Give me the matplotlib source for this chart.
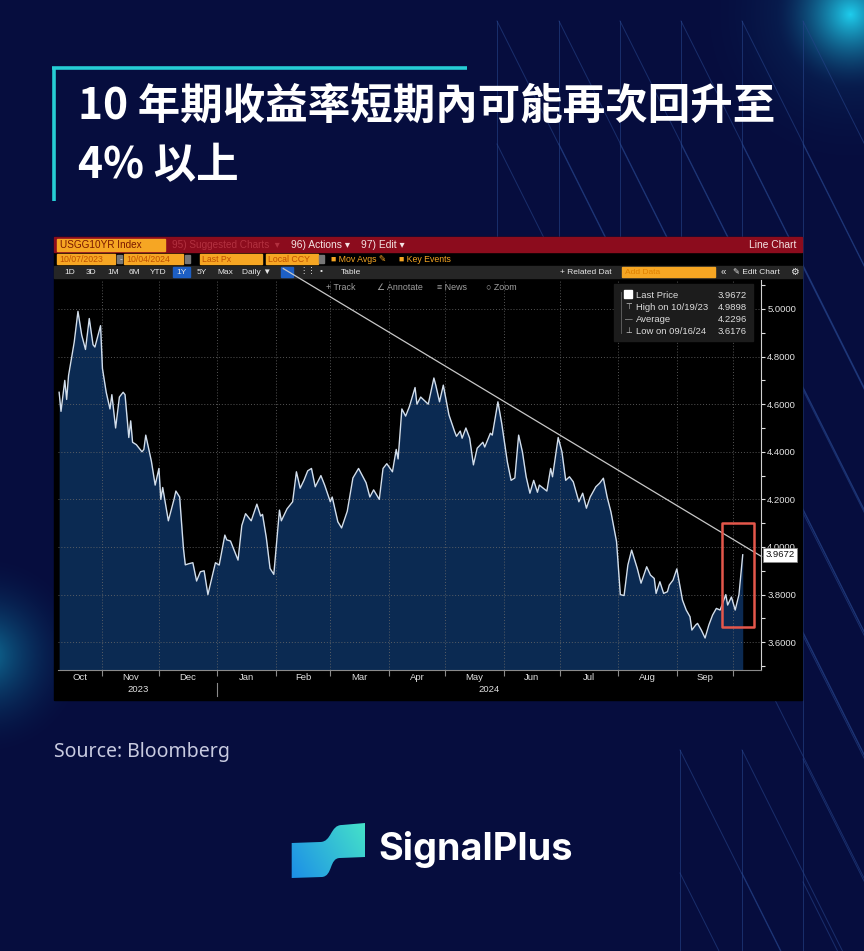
import datetime as dt
import numpy as np
import matplotlib
matplotlib.use("Agg")
import matplotlib.pyplot as plt
import matplotlib.dates as mdates
import matplotlib.transforms as mtransforms
from matplotlib import font_manager
from matplotlib.patches import Rectangle, PathPatch
from matplotlib.path import Path
from matplotlib.ticker import MultipleLocator, FormatStrFormatter, NullFormatter

# --- data: US 10Y yield, days after 2023-10-07 ---
start_date = dt.datetime(2023, 10, 7)
days = [2, 3, 5, 6, 7, 10, 12, 14, 16, 18,
        20, 21, 24, 25, 27, 29, 30, 32, 34, 36,
        37, 39, 40, 41, 43, 46, 47, 48, 51, 53,
        55, 56, 57, 60, 63, 64, 66, 68, 69, 71,
        73, 75, 77, 79, 81, 83, 85, 87, 90, 91,
        93, 97, 99, 101, 104, 107, 109, 110, 112, 114,
        116, 119, 120, 123, 126, 128, 130, 132, 134, 136,
        138, 141, 143, 146, 147, 150, 152, 155, 158, 161,
        165, 167, 169, 172, 174, 176, 179, 181, 182, 184,
        186, 188, 191, 192, 194, 198, 201, 202, 204, 206,
        209, 212, 213, 215, 216, 218, 220, 222, 224, 227,
        228, 231, 232, 235, 237, 240, 242, 244, 246, 248,
        250, 252, 254, 256, 257, 261, 263, 264, 267, 269,
        271, 273, 275, 278, 280, 282, 284, 287, 289, 291,
        293, 295, 298, 300, 302, 304, 306, 309, 311, 314,
        316, 318, 319, 321, 323, 325, 326, 328, 330, 333,
        335, 337, 338, 340, 341, 343, 345, 347, 349, 351,
        353, 354, 356, 357, 359, 361, 363, 365]
yields = [4.65, 4.57, 4.70, 4.62, 4.72, 4.86, 4.99, 4.89, 4.83, 4.96,
          4.85, 4.84, 4.93, 4.75, 4.65, 4.58, 4.64, 4.50, 4.63, 4.65,
          4.64, 4.46, 4.53, 4.44, 4.43, 4.40, 4.41, 4.47, 4.36, 4.26,
          4.33, 4.20, 4.25, 4.11, 4.20, 4.235, 4.21, 3.995, 3.925, 3.93,
          3.934, 3.857, 3.896, 3.90, 3.80, 3.868, 3.934, 3.924, 4.05, 4.03,
          4.025, 3.945, 4.09, 4.14, 4.11, 4.18, 4.13, 4.137, 4.04, 3.91,
          3.885, 4.155, 4.11, 4.16, 4.19, 4.316, 4.247, 4.28, 4.32, 4.33,
          4.253, 4.30, 4.26, 4.19, 4.21, 4.106, 4.08, 4.15, 4.29, 4.33,
          4.27, 4.21, 4.24, 4.20, 4.33, 4.35, 4.316, 4.41, 4.37, 4.58,
          4.55, 4.59, 4.67, 4.60, 4.63, 4.60, 4.71, 4.68, 4.61, 4.68,
          4.555, 4.485, 4.465, 4.487, 4.457, 4.50, 4.457, 4.345, 4.415, 4.44,
          4.42, 4.478, 4.47, 4.61, 4.52, 4.358, 4.28, 4.29, 4.47, 4.40,
          4.295, 4.226, 4.28, 4.23, 4.26, 4.235, 4.33, 4.295, 4.46, 4.40,
          4.28, 4.295, 4.274, 4.19, 4.226, 4.163, 4.21, 4.253, 4.268, 4.289,
          4.21, 4.148, 4.022, 3.80, 3.796, 3.924, 3.987, 3.91, 3.848, 3.917,
          3.882, 3.868, 3.805, 3.854, 3.805, 3.812, 3.84, 3.861, 3.908, 3.777,
          3.735, 3.707, 3.651, 3.672, 3.679, 3.651, 3.6176, 3.672, 3.714, 3.742,
          3.735, 3.756, 3.80, 3.756, 3.79, 3.735, 3.80, 3.9672]
assert len(days) == len(yields)

trend_days = [121, 375]
trend_vals = [5.17, 3.96]
box_days = [354, 371]
box_vals = [3.664, 4.101]

legend_rows = ["Last Price", "High on 10/19/23", "Average", "Low on 09/16/24"]
legend_vals = ["3.9672", "4.9898", "4.2296", "3.6176"]
last_px = 3.9672

title1 = "10 年期收益率短期內可能再次回升至"
title2 = "4% 以上"
source = "Source: Bloomberg"

W, H = 864, 951
names = {f.name for f in font_manager.fontManager.ttflist}
narrow = "Liberation Sans Narrow" if "Liberation Sans Narrow" in names else "Liberation Sans"
BBG = [narrow, "DejaVu Sans"]
CJK = ["Noto Sans CJK TC", "DejaVu Sans"]

fig = plt.figure(figsize=(W / 100, H / 100), dpi=100)
bg = fig.add_axes([0, 0, 1, 1])
bg.axis("off")

# background + glows
yy, xx = np.mgrid[0:H, 0:W]
base = np.array([6, 13, 62]) / 255
img = np.ones((H, W, 3)) * base


def glow(cx, cy, r, col, k, p=2.0):
    d = np.hypot(xx - cx, yy - cy)
    a = np.clip(1 - d / r, 0, 1) ** p * k
    return a[..., None] * (np.array(col) / 255 - base)


img += glow(850, 14, 75, (30, 205, 230), 0.75, 1.6)
img += glow(850, 14, 170, (20, 120, 170), 0.45, 2.2)
img += glow(-15, 655, 105, (20, 170, 205), 0.65)
bg.imshow(np.clip(img, 0, 1), extent=(0, W, H, 0), aspect="auto", zorder=0)
bg.set_xlim(0, W)
bg.set_ylim(H, 0)

# decorative lines
deco = dict(color="#26448a", lw=0.7, alpha=0.6, zorder=1)
for x0 in [497, 559, 620, 681, 742]:
    bg.plot([x0, x0], [21, 240], **deco)
    for y0 in [21, 144]:
        bg.plot([x0, x0 + 0.5 * (H - y0)], [y0, H], **deco)
bg.plot([803, 803], [21, H], **deco)
for y0 in np.arange(21, H, 123):
    bg.plot([803, 803 + 0.5 * (H - y0)], [y0, H], **deco)
for x0 in [680, 742]:
    bg.plot([x0, x0], [750, H], **deco)
    for y0 in [750, 873]:
        bg.plot([x0, x0 + 0.5 * (H - y0)], [y0, H], **deco)

# title frame + title
bg.plot([52, 467], [68, 68], color="#26cdd5", lw=2.6, zorder=3, solid_capstyle="butt")
bg.plot([53.5, 53.5], [67, 201], color="#26cdd5", lw=2.6, zorder=3, solid_capstyle="butt")
t1 = bg.text(78, 106, title1, color="white", fontsize=28, fontweight="bold",
             va="center", family=CJK, zorder=4)
t2 = bg.text(78, 165, title2, color="white", fontsize=28, fontweight="bold",
             va="center", family=CJK, zorder=4)
r = fig.canvas.get_renderer()
w1 = t1.get_window_extent(r).width
scale = 697 / w1
t1.set_fontsize(28 * scale)
t2.set_fontsize(28 * scale)

# Bloomberg panel
bg.add_patch(Rectangle((54, 237), 748, 463, color="black", zorder=2))


def btxt(x, y, s, color="#e8e8e8", size=6.3, ha="left", target=None, **kw):
    tgt = target if target is not None else bg
    tgt.text(x, y, s, color=color, fontsize=size, ha=ha, va="center", family=BBG,
             transform=bg.transData, zorder=12, clip_on=False, **kw)


# row 1
bg.add_patch(Rectangle((54, 237), 748, 15, color="#8c0c1d", zorder=3))
bg.add_patch(Rectangle((57, 238.5), 108, 12, color="#f6a623", zorder=4))
btxt(60, 244.5, "USGG10YR Index", color="#7a1800", size=7.2)
btxt(172, 244.5, "95) Suggested Charts  \u25be", color="#b2303f", size=7.2)
btxt(291, 244.5, "96) Actions \u25be", color="#f4e4e4", size=7.4)
btxt(361, 244.5, "97) Edit \u25be", color="#f4e4e4", size=7.4)
btxt(796, 244.5, "Line Chart", color="#f4e4e4", size=7.4, ha="right")

# row 2
for x0, wd, s in [(57, 58, "10/07/2023"), (124, 59, "10/04/2024"),
                  (200, 62, "Last Px"), (266, 52, "Local CCY")]:
    bg.add_patch(Rectangle((x0, 254), wd, 10, color="#f6a623", zorder=4))
    btxt(x0 + 2, 259.3, s, color="#c05000", size=6.3)
for x0 in [117, 185, 319]:
    bg.add_patch(Rectangle((x0, 255), 5, 8, color="#777777", zorder=4))
btxt(119.5, 259.3, "-", color="#dddddd")
btxt(331, 259.3, "\u25a0 Mov Avgs \u270e", color="#f6a623", size=6.3)
btxt(399, 259.3, "\u25a0 Key Events", color="#f6a623", size=6.3)

# row 3
bg.add_patch(Rectangle((54, 266), 748, 12, color="#262626", zorder=3))
bg.add_patch(Rectangle((173, 267), 17, 10, color="#1d5fc4", zorder=4))
bg.add_patch(Rectangle((281, 267), 12, 10, color="#1d5fc4", zorder=4))
for x0, s in [(64, "1D"), (86, "3D"), (107, "1M"), (129, "6M"), (150, "YTD"),
              (176, "1Y"), (197, "5Y"), (217, "Max"), (242, "Daily \u25bc"),
              (299, "\u22ee\u22ee"), (320, "\u2022"), (341, "Table")]:
    btxt(x0, 272, s, size=6.0)
btxt(560, 272, "+ Related Dat", size=6.0)
bg.add_patch(Rectangle((622, 267), 93, 10, color="#f6a623", zorder=4))
btxt(625, 272, "Add Data", color="#e08000", size=6.0)
btxt(721, 272, "\u00ab", size=7)
btxt(733, 272, "\u270e Edit Chart", size=6.0)
btxt(790, 272, "\u2699", size=7)

# plot axes
x0_px, x1_px, top_px, bot_px = 58, 761, 280, 670
ax = fig.add_axes([x0_px / W, 1 - bot_px / H, (x1_px - x0_px) / W, (bot_px - top_px) / H],
                  zorder=5)
ax.set_facecolor("none")
base_num = mdates.date2num(start_date)
xd = base_num + np.array(days)
ax.fill_between(xd, yields, 3.0, color="#0b2a52", lw=0, zorder=1)
ax.plot(xd, yields, color="#d2deec", lw=1.0, zorder=3)
ax.plot(base_num + np.array(trend_days), trend_vals, color="#c8c8c8", lw=0.9,
        zorder=4, clip_on=False)
xlim = (base_num + 1.4, base_num + 374.7)
ax.set_xlim(*xlim)
ax.set_ylim(3.4832, 5.1218)

ax.xaxis.set_major_locator(mdates.MonthLocator())
ax.xaxis.set_major_formatter(NullFormatter())
ax.yaxis.tick_right()
ax.yaxis.set_major_locator(MultipleLocator(0.2))
ax.yaxis.set_minor_locator(MultipleLocator(0.1))
ax.yaxis.set_major_formatter(FormatStrFormatter("%.4f"))
ax.grid(True, which="major", color="#6a6a6a", ls=(0, (1, 2)), lw=0.7, alpha=0.8, zorder=2)
ax.tick_params(axis="y", which="both", direction="out", length=3, width=0.8,
               color="#e0e0e0", labelcolor="#e4e4e4", labelsize=6.8, pad=1.5)
ax.tick_params(axis="x", which="both", direction="out", length=4, width=0.8,
               color="#8a8a8a")
for lab in ax.get_yticklabels():
    lab.set_family(BBG)
for sp in ["left", "top"]:
    ax.spines[sp].set_visible(False)
ax.spines["right"].set_color("#d0d0d0")
ax.spines["right"].set_linewidth(0.8)
ax.spines["bottom"].set_color("#8a8a8a")
ax.spines["bottom"].set_linewidth(0.8)

# month + year labels
mix = mtransforms.blended_transform_factory(ax.transData, bg.transData)
months = [dt.datetime(2023, 10, 1)]
while months[-1] < dt.datetime(2024, 10, 1):
    m = months[-1]
    months.append(dt.datetime(m.year + (m.month == 12), m.month % 12 + 1, 1))
for a, b in zip(months[:-1], months[1:]):
    lo = max(mdates.date2num(a), xlim[0])
    hi = min(mdates.date2num(b), xlim[1])
    ax.text((lo + hi) / 2, 678, a.strftime("%b"), transform=mix, ha="center", va="center",
            color="#e0e0e0", fontsize=6.8, family=BBG, clip_on=False)
jan = mdates.date2num(dt.datetime(2024, 1, 1))
ax.text((xlim[0] + jan) / 2, 689, "2023", transform=mix, ha="center", va="center",
        color="#e0e0e0", fontsize=6.8, family=BBG, clip_on=False)
ax.text((jan + xlim[1]) / 2, 689, "2024", transform=mix, ha="center", va="center",
        color="#e0e0e0", fontsize=6.8, family=BBG, clip_on=False)
ax.plot([jan, jan], [683, 696], transform=mix, color="#8a8a8a", lw=0.8, clip_on=False)

# toolbar row over the plot
for x0, s in [(326, "+ Track"), (377, "\u2220 Annotate"), (437, "\u2261 News"), (486, "\u25cb Zoom")]:
    btxt(x0, 287, s, color="#a0a0a0", size=6.4, target=ax)

# legend box
ax.add_patch(Rectangle((614, 284), 139, 57, color="#1c1c1c", transform=bg.transData,
                       zorder=10, clip_on=False))
ax.plot([621, 621], [292, 333], transform=bg.transData, color="#666666", lw=0.6,
        zorder=11, clip_on=False)
ax.add_patch(Rectangle((624, 290), 8, 8, color="white", transform=bg.transData,
                       zorder=11, clip_on=False))
icons = ["", "\u22a4", "\u2014", "\u22a5"]
for i, (lab, val) in enumerate(zip(legend_rows, legend_vals)):
    yv = 295 + 12.3 * i
    if icons[i]:
        btxt(625, yv, icons[i], color="#cfcfcf", size=5.5, target=ax)
    btxt(636, yv, lab, color="#dcdcdc", size=6.8, target=ax)
    btxt(747, yv, val, color="#dcdcdc", size=6.8, ha="right", target=ax)

# red highlight box
ax.add_patch(Rectangle((base_num + box_days[0], box_vals[0]), box_days[1] - box_days[0],
                       box_vals[1] - box_vals[0], fill=False, ec="#e4574b", lw=1.8,
                       joinstyle="round", zorder=9, clip_on=False))

# last price tag
ax.text(1.006, last_px, f"{last_px:.4f}",
        transform=mtransforms.blended_transform_factory(ax.transAxes, ax.transData),
        ha="left", va="center", fontsize=6.8, color="#111111", family=BBG, zorder=12,
        clip_on=False, bbox=dict(boxstyle="square,pad=0.25", fc="white", ec="#888888", lw=0.5))

# source
bg.text(54, 752, source, color="#c8cbe0", fontsize=14, va="center",
        family=["Noto Sans", "DejaVu Sans"], zorder=4)

# logo
verts = [(291.7, 843), (320, 842), (332, 842), (330, 825), (342, 825), (365, 823),
         (365, 857), (340, 858), (329, 858), (333, 876), (322, 877), (291.7, 878), (291.7, 843)]
codes = [Path.MOVETO, Path.LINETO, Path.CURVE4, Path.CURVE4, Path.CURVE4, Path.LINETO,
         Path.LINETO, Path.LINETO, Path.CURVE4, Path.CURVE4, Path.CURVE4, Path.LINETO,
         Path.CLOSEPOLY]
logo = PathPatch(Path(verts, codes), fc="none", ec="none", transform=bg.transData)
bg.add_patch(logo)
gy, gx = np.mgrid[0:60, 0:80]
t = np.clip(0.7 * gx / 79 + 0.3 * (59 - gy) / 59, 0, 1)[..., None]
c0 = np.array([27, 140, 232]) / 255
c1 = np.array([70, 228, 200]) / 255
grad = c0 + (c1 - c0) * t
im = bg.imshow(grad, extent=(289, 367, 880, 821), aspect="auto", zorder=5)
im.set_clip_path(logo)
lt = bg.text(378, 849, "SignalPlus", color="white", fontsize=28, fontweight="bold",
             va="center", family=["Inter", "Lato", "DejaVu Sans"], zorder=5)
lw_ = lt.get_window_extent(r).width
lt.set_fontsize(28 * 194 / lw_)
bg.set_xlim(0, W)
bg.set_ylim(H, 0)

fig.savefig("out.png", dpi=100, facecolor=fig.get_facecolor())
